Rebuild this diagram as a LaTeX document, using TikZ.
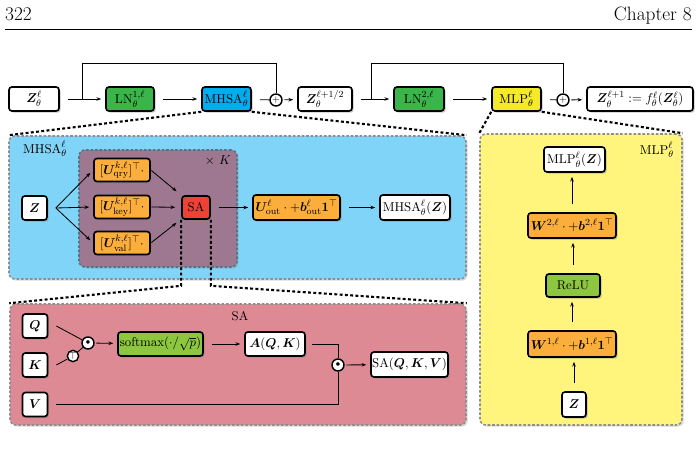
\documentclass[tikz,border=0pt]{standalone}
\usepackage{amsmath, bm}
\usetikzlibrary{arrows.meta, positioning, calc, shadows, fit}
\definecolor{bluepanel}{HTML}{80D4F7}
\definecolor{bluebox}{HTML}{00AEEF}
\definecolor{greenbox}{HTML}{39B54A}
\definecolor{limebox}{HTML}{8DC63F}
\definecolor{yellowbox}{HTML}{F4EA2A}
\definecolor{yellowpanel}{HTML}{FFF57D}
\definecolor{orangebox}{HTML}{FBAE3C}
\definecolor{redbox}{HTML}{EF4136}
\definecolor{mauvepanel}{HTML}{9E7791}
\definecolor{rosepanel}{HTML}{DE8A94}
\definecolor{panelline}{HTML}{8E8E8E}
\definecolor{mauveline}{HTML}{4F7683}

\begin{document}
\begin{tikzpicture}[
    x=0.03cm, y=-0.03cm,
    every node/.style={font=\fontsize{10.8}{13}\selectfont},
    blk/.style={draw=black, line width=1.4pt, rounded corners=2.5pt, fill=white,
        inner sep=1pt, minimum height=0.72cm,
        drop shadow={opacity=0.45, shadow xshift=0.5mm, shadow yshift=-0.5mm}},
    pnl/.style={draw=panelline, line width=1.3pt, dash pattern=on 2.2pt off 1.6pt,
        rounded corners=5pt, inner sep=0pt,
        drop shadow={opacity=0.3, shadow xshift=0.5mm, shadow yshift=-0.5mm}},
    op/.style={circle, draw=black, fill=white, line width=1.2pt, minimum size=0.36cm,
        inner sep=0pt, font=\footnotesize},
    wire/.style={line width=0.7pt},
    arr/.style={wire, -{Stealth[length=4pt]}, shorten >=1.2mm},
    dots/.style={line width=1.8pt, dash pattern=on 2.5pt off 2pt},
    hdr/.style={font=\fontsize{16.5}{20}\selectfont, inner sep=0pt},
]
\useasboundingbox (0,0) rectangle (700,456);

% ---------------------------------------------------------------- header
\node[hdr, anchor=base west] (pnum) at (5,21) {322};
\node[hdr, anchor=base east] (chap) at (692,21) {Chapter 8};
\draw[line width=0.6pt] (pnum.base west |- 0,29) -- (chap.base east |- 0,29);

% ---------------------------------------------------------------- top row
\node[blk, minimum width=1.5cm] (zin) at (34,99) {$\bm{Z}_\theta^\ell$};
\node[blk, fill=greenbox, minimum width=1.44cm] (ln1) at (130,99) {$\mathrm{LN}_\theta^{1,\ell}$};
\node[blk, fill=bluebox, minimum width=1.47cm] (mhsa) at (226.5,99) {$\mathrm{MHSA}_\theta^{\ell}$};
\node[op] (plus1) at (276,100) {$+$};
\node[blk, minimum width=1.62cm] (zhalf) at (325,99) {$\bm{Z}_\theta^{\ell+1/2}$};
\node[blk, fill=greenbox, minimum width=1.5cm] (ln2) at (419,99) {$\mathrm{LN}_\theta^{2,\ell}$};
\node[blk, fill=yellowbox, minimum width=1.47cm] (mlp) at (516.5,99) {$\mathrm{MLP}_\theta^{\ell}$};
\node[op] (plus2) at (563,100) {$+$};
\node[blk, minimum width=3.18cm] (zout) at (640,99) {$\bm{Z}_\theta^{\ell+1} := f_\theta^\ell(\bm{Z}_\theta^\ell)$};

\draw[arr, shorten <=2.4mm] (zin) -- (ln1);
\draw[arr, shorten <=2.4mm] (ln1) -- (mhsa);
\draw[wire, shorten <=2.4mm] (mhsa) -- (plus1);
\draw[arr, shorten <=0.5mm] (plus1) -- (zhalf);
\draw[arr, shorten <=2.4mm] (zhalf) -- (ln2);
\draw[arr, shorten <=2.4mm] (ln2) -- (mlp);
\draw[wire, shorten <=2.4mm] (mlp) -- (plus2);
\draw[arr, shorten <=0.5mm] (plus2) -- (zout);

% residual paths
\coordinate (tap1) at (82,99);
\coordinate (tap2) at (371,99);
\draw[wire] (tap1) -- ++(0,-36) -| (plus1.north);
\draw[wire] (tap2) -- ++(0,-36) -| (plus2.north);

% ---------------------------------------------------------------- panels
\node[pnl, fill=bluepanel, fit={(9,136) (466,279)}] (bluep) {};
\node[pnl, fill=mauvepanel, draw=mauveline, fit={(79,150) (237,267)}] (headp) {};
\node[pnl, fill=rosepanel, fit={(10,304) (466,425)}] (redp) {};
\node[pnl, fill=yellowpanel, fit={(480,134) (682,425)}] (yelp) {};

\node[anchor=west] (bluet) at (19,149) {$\mathrm{MHSA}_\theta^{\ell}$};
\node (headt) at (218,161) {$\times\ K$};
\node (redt) at (240,316) {SA};
\node[anchor=east] (yelt) at (678,150) {$\mathrm{MLP}_\theta^{\ell}$};

% zoom lines
\draw[dots] (mhsa.south west) -- (bluep.north west);
\draw[dots] (mhsa.south east) -- (bluep.north east);
\draw[dots] (mlp.south west) -- (yelp.north west);
\draw[dots] (mlp.south east) -- (yelp.north east);

% ---------------------------------------------------------------- MHSA
\node[blk, minimum width=0.75cm] (z1) at (34.5,208) {$\bm{Z}$};
\node[blk, fill=redbox, minimum width=0.84cm, minimum height=0.69cm] (sa) at (196,207.5) {SA};
\node[blk, fill=orangebox, minimum width=2.61cm, minimum height=0.75cm] (uo) at (296.5,207.5)
    {$\bm{U}^\ell_{\mathrm{out}}\cdot+\bm{b}^\ell_{\mathrm{out}}\mathbf{1}^\top$};
\node[blk, minimum width=2.1cm, minimum height=0.75cm] (mo) at (415,207.5) {$\mathrm{MHSA}^\ell_\theta(\bm{Z})$};
\coordinate (zfork) at ([xshift=0.24cm]z1.east);

\foreach \y/\nm/\sub in {170/uq/qry, 207/uk/key, 243/uv/val}{
    \node[blk, fill=orangebox, minimum width=1.68cm, minimum height=0.69cm] (\nm) at (122,\y)
        {$[\bm{U}^{k,\ell}_{\mathrm{\sub}}]^\top\cdot$};
    \draw[arr] (zfork) -- (\nm.west);
    \draw[arr, shorten <=0.2mm, shorten >=1.8mm] (\nm.east) -- (sa);
}
\draw[arr, shorten <=2.4mm] (sa) -- (uo);
\draw[arr, shorten <=2.4mm] (uo) -- (mo);

\draw[dots] (sa.south west) -- ++(0,66) -- (redp.north west);
\draw[dots] (sa.south east) -- ++(0,66) -- (redp.north east);

% ---------------------------------------------------------------- SA
\node[blk, minimum width=0.75cm] (q) at (35,326) {$\bm{Q}$};
\node[blk, minimum width=0.75cm] (k) at (35,365) {$\bm{K}$};
\node[blk, minimum width=0.75cm] (v) at (35,404.5) {$\bm{V}$};
\node[op, font=\scriptsize] (dot1) at (88,343) {$\bullet$};
\node[op, minimum size=0.34cm, font=\footnotesize] (tr) at (73,356) {$\top$};
\node[blk, fill=limebox, minimum width=2.55cm] (sm) at (160.5,344) {$\mathrm{softmax}(\cdot/\sqrt{p})$};
\node[blk, minimum width=1.8cm] (am) at (275,344) {$\bm{A}(\bm{Q},\bm{K})$};
\node[op, font=\scriptsize] (dot2) at (338,365) {$\bullet$};
\node[blk, minimum width=2.25cm, minimum height=0.75cm] (sqkv) at (409.5,364.5) {$\mathrm{SA}(\bm{Q},\bm{K},\bm{V})$};

\draw[wire] ([xshift=0.24cm]q.east) -- (dot1);
\draw[wire] ([xshift=0.24cm]k.east) -- (tr);
\draw[wire] (tr) -- (dot1);
\draw[arr, shorten <=0.5mm] (dot1) -- (sm);
\draw[arr, shorten <=2.4mm] (sm) -- (am);
\draw[wire] ([xshift=0.2cm]am.east) -| (dot2.north);
\draw[wire] ([xshift=0.24cm]v.east) -| (dot2.south);
\draw[arr, shorten <=0.5mm] (dot2) -- (sqkv);

% ---------------------------------------------------------------- MLP
\node[blk, minimum width=1.83cm, minimum height=0.75cm] (mz) at (574.5,159.5) {$\mathrm{MLP}^\ell_\theta(\bm{Z})$};
\node[blk, fill=orangebox, minimum width=2.64cm, minimum height=0.75cm] (w2) at (572,225.5)
    {$\bm{W}^{2,\ell}\cdot+\bm{b}^{2,\ell}\mathbf{1}^\top$};
\node[blk, fill=limebox, minimum width=1.62cm, minimum height=0.69cm] (relu) at (573,285.5) {ReLU};
\node[blk, fill=orangebox, minimum width=2.64cm, minimum height=0.78cm] (w1) at (572,344)
    {$\bm{W}^{1,\ell}\cdot+\bm{b}^{1,\ell}\mathbf{1}^\top$};
\node[blk, minimum width=0.72cm, minimum height=0.75cm] (z2) at (574,404.5) {$\bm{Z}$};

\foreach \a/\b in {z2/w1, w1/relu, relu/w2, w2/mz}{
    \draw[arr, shorten <=2.4mm] (\a.north |- \a.north) -- (\a.north |- \b.south);
}

\end{tikzpicture}
\end{document}
